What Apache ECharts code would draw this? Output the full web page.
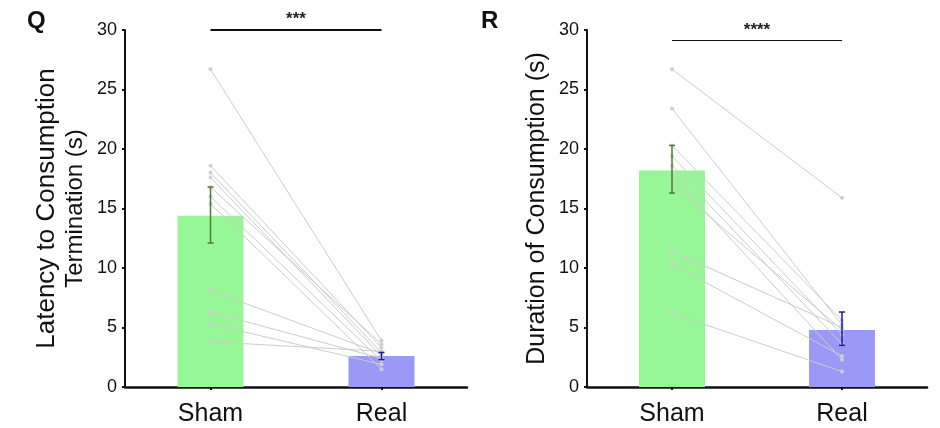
<!DOCTYPE html>
<html>
<head>
<meta charset="utf-8">
<script src="https://cdn.jsdelivr.net/npm/echarts@6/dist/echarts.min.js"></script>
<style>
  html, body { margin: 0; padding: 0; background: #fff; }
  #chart { width: 940px; height: 428px; }
</style>
</head>
<body>
<div id="chart"></div>
<script>
const FONT = 'Liberation Sans, Arial, sans-serif'

const categories = ['Sham', 'Real']

// Q: latency to consumption termination
const latencyMean = [14.4, 2.6]
const latencyErrLow = [12.1, 2.3]
const latencyErrHigh = [16.8, 2.9]
const latencySham = [26.7, 18.6, 18.0, 17.6, 16.8, 16.0, 15.4, 8.1, 6.3, 5.3, 3.8]
const latencyReal = [3.9, 3.3, 2.9, 2.6, 3.6, 2.2, 1.5, 2.8, 2.4, 1.9, 3.0]

// R: duration of consumption
const durationMean = [18.2, 4.8]
const durationErrLow = [16.3, 3.5]
const durationErrHigh = [20.3, 6.3]
const durationSham = [26.7, 23.4, 20.3, 19.4, 18.6, 17.8, 17.0, 11.4, 10.3, 6.2]
const durationReal = [15.9, 5.2, 5.6, 4.4, 3.6, 2.3, 4.8, 5.0, 2.6, 1.3]

const sigLevel = [30, 29.1]
const sigText = ['***', '****']
const sigWidth = [2, 1.2]

const barColors = ['#97f797', '#9a9af6']
const errColors = ['#4b7d33', '#1c1ca0']

const chart = echarts.init(document.getElementById('chart'))

const yAxisBase = (gridIndex, name) => ({
  gridIndex,
  type: 'value',
  min: 0,
  max: 30,
  interval: 5,
  name,
  nameLocation: 'middle',
  nameGap: 36,
  nameTextStyle: {
    fontFamily: FONT,
    fontSize: 25,
    color: '#111',
    lineHeight: 28,
    rich: {
      a: { fontFamily: FONT, fontSize: 26, color: '#111', lineHeight: 28 },
      b: { fontFamily: FONT, fontSize: 24, color: '#111', lineHeight: 28 },
    },
  },
  axisLine: { show: true, lineStyle: { color: '#111', width: 2 } },
  axisTick: { show: true, length: 3, lineStyle: { color: '#111', width: 2 } },
  axisLabel: { fontFamily: FONT, fontSize: 18, color: '#111', margin: 8 },
  splitLine: { show: false },
})

const xAxisBase = (gridIndex) => ({
  gridIndex,
  type: 'category',
  data: categories,
  axisLine: { show: true, lineStyle: { color: '#111', width: 2.5 } },
  axisTick: { show: true, alignWithLabel: true, length: 3, lineStyle: { color: '#111', width: 2 } },
  axisLabel: { fontFamily: FONT, fontSize: 25, color: '#111', margin: 15 },
})

const makePanel = (idx, mean, lo, hi, sham, real) => {
  const series = []
  series.push({
    type: 'bar',
    xAxisIndex: idx,
    yAxisIndex: idx,
    barWidth: 66,
    z: 1,
    data: mean.map((v, i) => ({ value: v, itemStyle: { color: barColors[i] } })),
    markLine: {
      silent: true,
      symbol: 'none',
      lineStyle: { color: '#111', width: sigWidth[idx], type: 'solid' },
      label: {
        show: true,
        position: 'middle',
        formatter: sigText[idx],
        fontFamily: FONT,
        fontSize: 17,
        fontWeight: 'bold',
        color: '#222',
        distance: 2,
      },
      data: [[{ coord: [categories[0], sigLevel[idx]] }, { coord: [categories[1], sigLevel[idx]] }]],
    },
  })
  sham.forEach((s, i) => {
    series.push({
      type: 'line',
      xAxisIndex: idx,
      yAxisIndex: idx,
      z: 3,
      symbol: 'circle',
      symbolSize: 4,
      itemStyle: { color: '#cfcfcf' },
      lineStyle: { color: '#cccccc', width: 1 },
      data: [s, real[i]],
      silent: true,
    })
  })
  series.push({
    type: 'custom',
    xAxisIndex: idx,
    yAxisIndex: idx,
    z: 5,
    data: categories.map((c, i) => [i, lo[i], hi[i]]),
    renderItem: (params, api) => {
      const x = api.value(0)
      const p1 = api.coord([x, api.value(1)])
      const p2 = api.coord([x, api.value(2)])
      const w = 3
      const style = { stroke: errColors[params.dataIndex], lineWidth: 1.5 }
      return {
        type: 'group',
        children: [
          { type: 'line', shape: { x1: p1[0], y1: p1[1], x2: p2[0], y2: p2[1] }, style },
          { type: 'line', shape: { x1: p1[0] - w, y1: p1[1], x2: p1[0] + w, y2: p1[1] }, style },
          { type: 'line', shape: { x1: p2[0] - w, y1: p2[1], x2: p2[0] + w, y2: p2[1] }, style },
        ],
      }
    },
  })
  return series
}

const option = {
  backgroundColor: '#fff',
  animation: false,
  title: [
    { text: 'Q', left: 22, top: 4, textStyle: { fontFamily: FONT, fontSize: 24, fontWeight: 'bold', color: '#111' } },
    { text: 'R', left: 476, top: 4, textStyle: { fontFamily: FONT, fontSize: 24, fontWeight: 'bold', color: '#111' } },
  ],
  grid: [
    { left: 125, top: 30, width: 342, bottom: 41 },
    { left: 587, top: 30, width: 340, bottom: 41 },
  ],
  xAxis: [xAxisBase(0), xAxisBase(1)],
  yAxis: [
    yAxisBase(0, '{a|Latency to Consumption}\n{b|Termination (s)}'),
    yAxisBase(1, 'Duration of Consumption (s)'),
  ],
  series: [
    ...makePanel(0, latencyMean, latencyErrLow, latencyErrHigh, latencySham, latencyReal),
    ...makePanel(1, durationMean, durationErrLow, durationErrHigh, durationSham, durationReal),
  ],
}

chart.setOption(option)
</script>
</body>
</html>
